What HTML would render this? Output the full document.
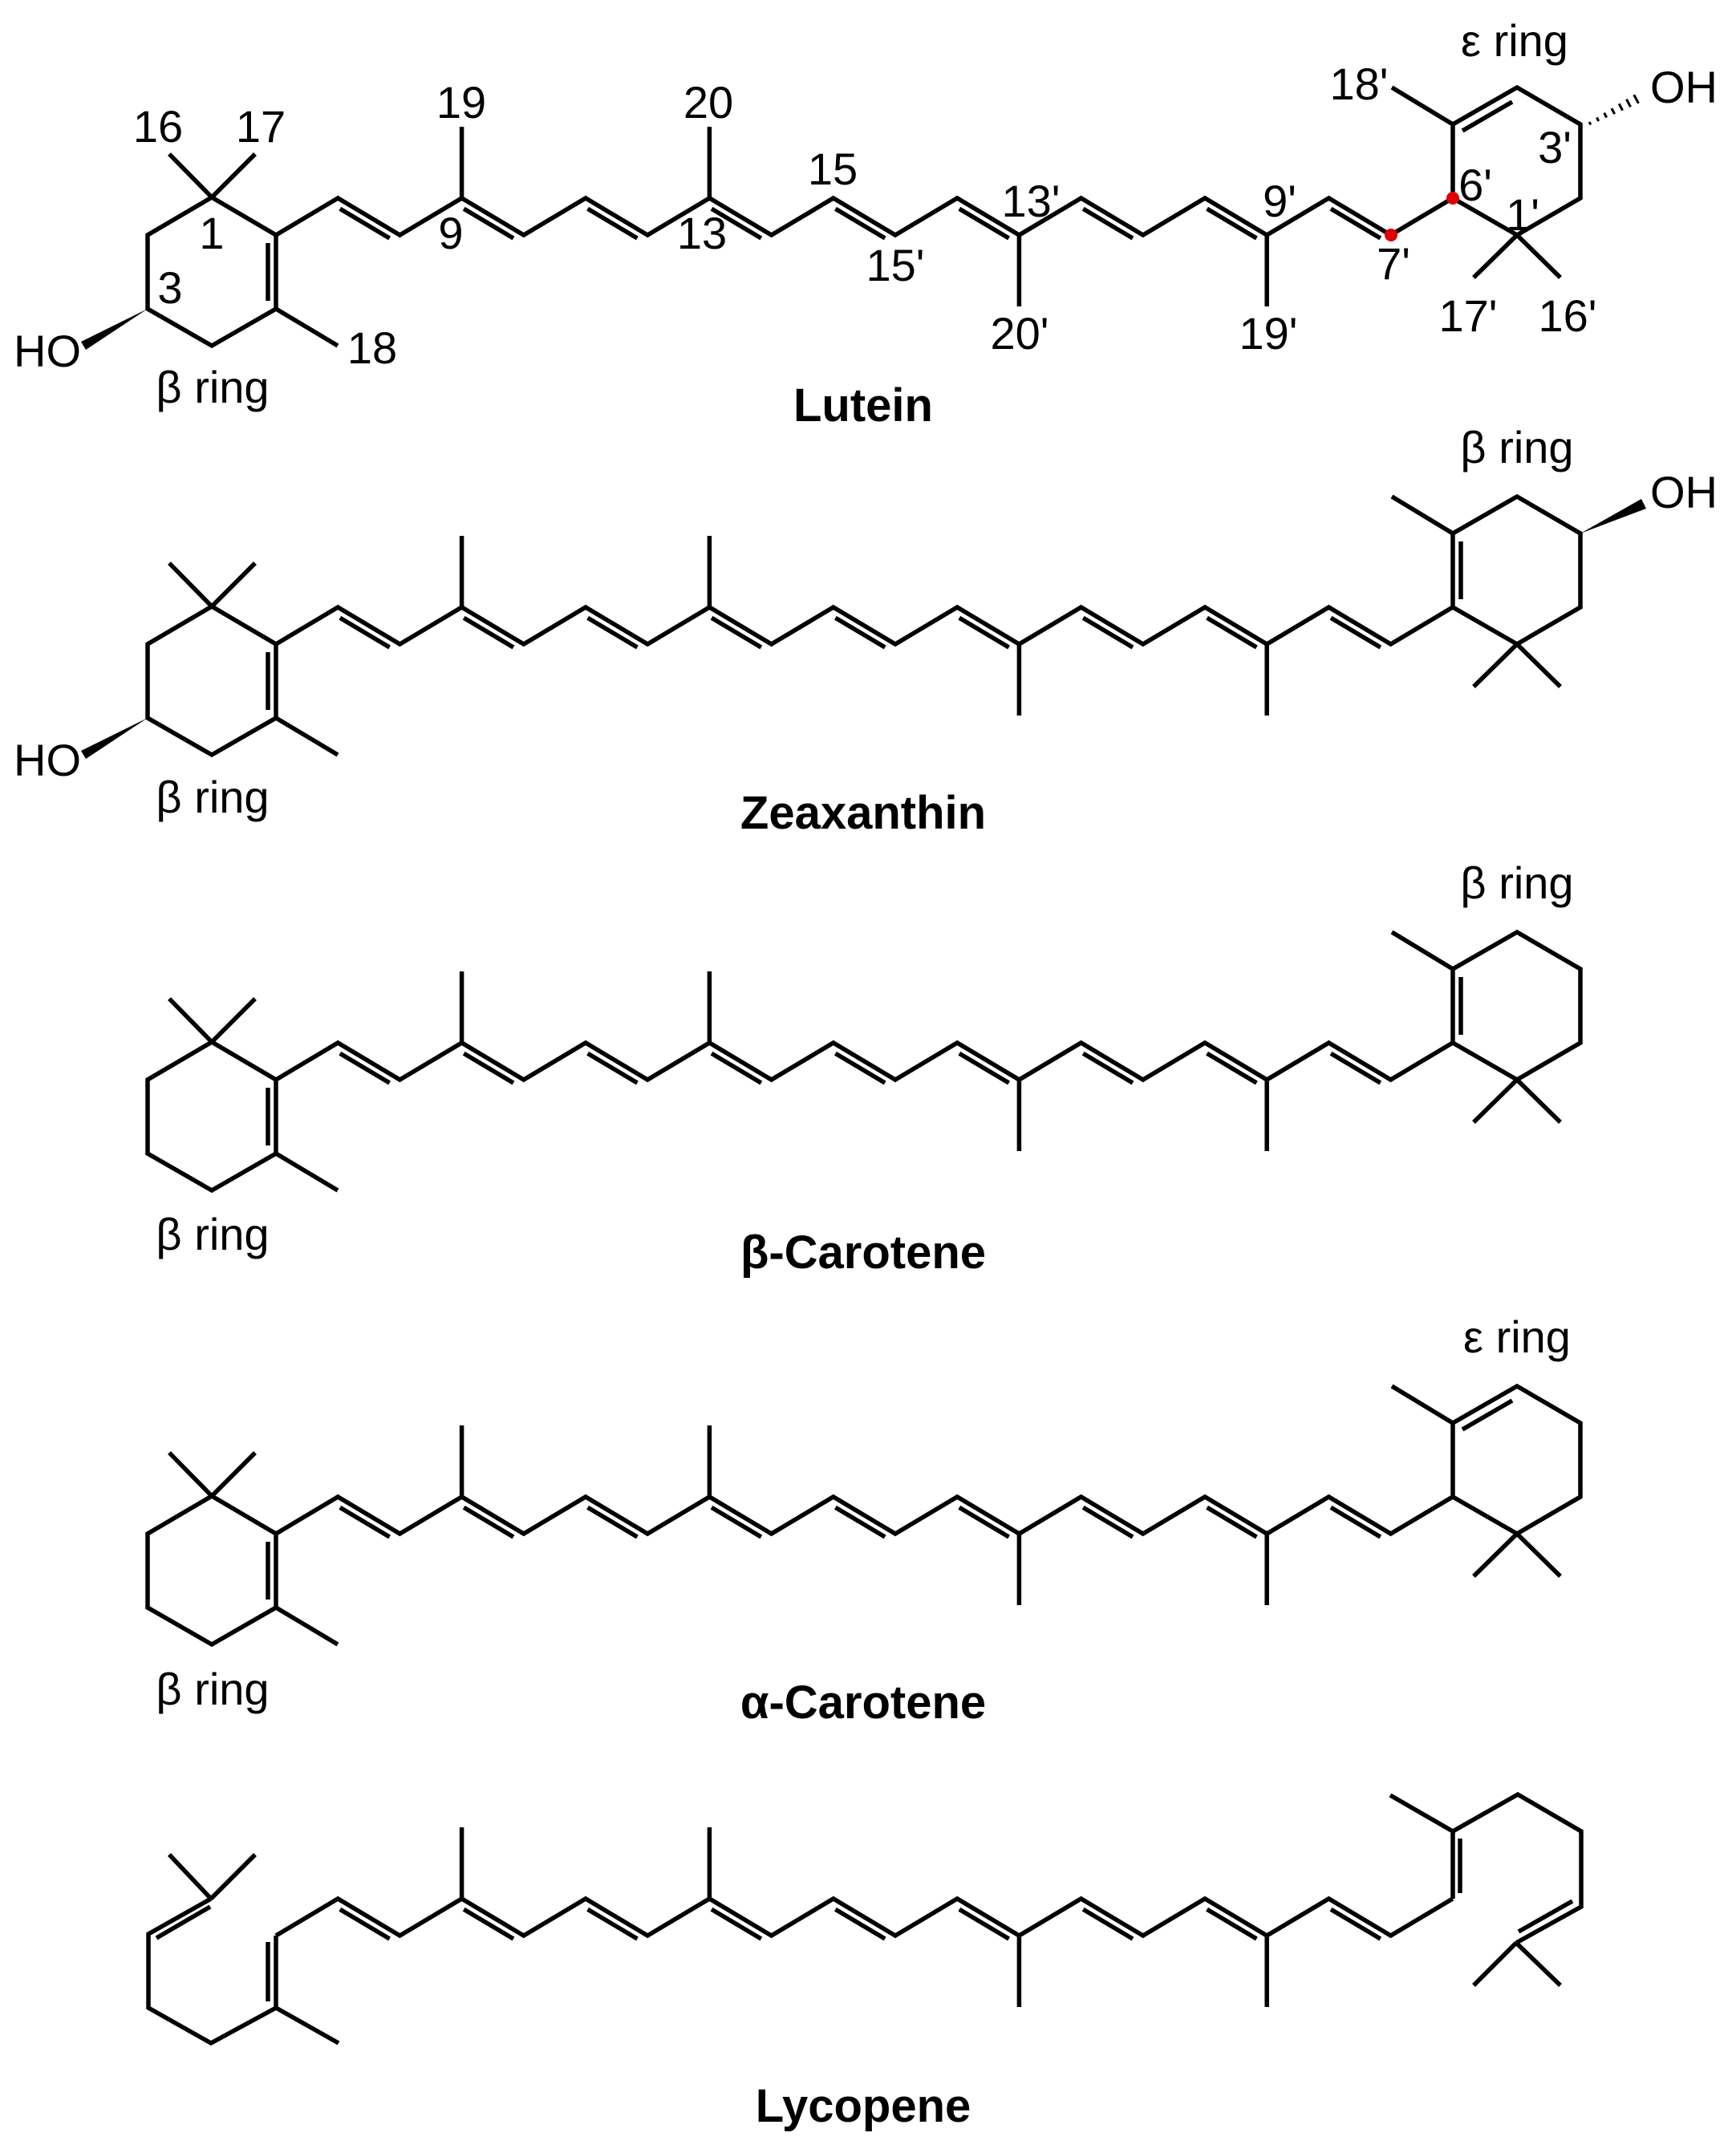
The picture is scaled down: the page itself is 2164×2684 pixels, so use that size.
<!DOCTYPE html>
<html><head><meta charset="utf-8"><style>
html,body{margin:0;padding:0;background:#fff;}
svg{display:block;}
text{font-family:"Liberation Sans",Arial,sans-serif;fill:#000;}
.l{font-size:56px;}
.n{font-size:58px;font-weight:bold;}
</style></head><body>
<svg xmlns="http://www.w3.org/2000/svg" xmlns:xlink="http://www.w3.org/1999/xlink" width="2164" height="2684" viewBox="0 0 2164 2684">
<defs>
<g id="ch" fill="none" stroke="#000" stroke-width="5.5" stroke-linejoin="miter">
<polyline points="344,293 421.2,247 498.4,293 575.6,247 652.8,293 730,247 807.2,293 884.4,247 961.6,293 1038.8,247 1116,293 1193.2,247 1270.4,293 1347.6,247 1424.8,293 1502,247 1579.2,293 1656.4,247 1733.6,293 1810.8,247"/>
<path d="M423.8,260.2L485.6,297M578.2,260.2L640,297M732.6,260.2L794.4,297M887,260.2L948.8,297M1041.4,260.2L1103.2,297M1195.8,260.2L1257.6,297M1350.2,260.2L1412,297M1504.6,260.2L1566.4,297M1659,260.2L1720.8,297"/>
<path d="M575.6,247V158M884.4,247V158M1270.4,293V382M1579.2,293V382"/>
</g>
<g id="lr" fill="none" stroke="#000" stroke-width="5.5">
<polygon points="344,293 344,385 264,431 184,385 184,293 264,246"/>
<path d="M334,303V375M264,246L211,192M264,246L318,192M344,385L421,431"/>
</g>
<g id="rb" fill="none" stroke="#000" stroke-width="5.5">
<polygon points="1811,247 1811,155 1891,109 1970,155 1970,247 1891,293"/>
<path d="M1821,165V237M1891,293L1837,346M1891,293L1945,346M1811,155L1735,109"/>
</g>
<g id="re" fill="none" stroke="#000" stroke-width="5.5">
<polygon points="1811,247 1811,155 1891,109 1970,155 1970,247 1891,293"/>
<path d="M1823,163L1885,127M1891,293L1837,346M1891,293L1945,346M1811,155L1735,109"/>
</g>
</defs>

<!-- Lutein -->
<use xlink:href="#ch"/>
<use xlink:href="#lr"/>
<use xlink:href="#re"/>
<polygon points="184,385 101,426 107,436" fill="#000"/>
<g stroke="#000" stroke-width="3">
<path d="M1981.1,151.9L1982.9,155.5M1990.4,146.4L1992.8,151M1999.7,140.7L2002.7,146.5M2008.9,135.1L2012.7,142.1M2018.2,129.3L2022.6,137.7M2027.5,123.7L2032.5,133.3M2036.8,118.2L2042.4,128.8"/>
</g>
<circle cx="1734" cy="293" r="8" fill="#e00000"/>
<circle cx="1811" cy="247" r="8" fill="#e00000"/>
<g class="l" text-anchor="middle">
<text x="197" y="177">16</text><text x="325" y="177">17</text><text x="575" y="147">19</text>
<text x="264" y="310">1</text><text x="212" y="378">3</text><text x="562" y="310">9</text>
<text x="464" y="453">18</text><text x="883" y="147">20</text><text x="875" y="310">13</text>
<text x="1038" y="230">15</text><text x="1116" y="350">15'</text><text x="1285" y="270">13'</text>
<text x="1271" y="435">20'</text><text x="1595" y="270">9'</text><text x="1581" y="435">19'</text>
<text x="1737" y="348">7'</text><text x="1839" y="250">6'</text><text x="1898" y="287">1'</text>
<text x="1938" y="203">3'</text><text x="1694" y="124">18'</text><text x="1830" y="413">17'</text>
<text x="1954" y="413">16'</text><text x="1888" y="70">ε ring</text>
<text x="265" y="502">β ring</text>
</g>
<text class="l" x="17" y="457">HO</text>
<text class="l" x="2057" y="128">OH</text>
<text class="n" x="1076" y="525" text-anchor="middle">Lutein</text>

<!-- Zeaxanthin -->
<g transform="translate(0,510)">
<use xlink:href="#ch"/>
<use xlink:href="#lr"/>
<use xlink:href="#rb"/>
<polygon points="184,385 101,426 107,436" fill="#000"/>
<polygon points="1970,155 2046,112 2052,124" fill="#000"/>
<text class="l" x="17" y="457">HO</text>
<text class="l" x="2057" y="123">OH</text>
<text class="l" x="265" y="503" text-anchor="middle">β ring</text>
<text class="l" x="1891" y="67" text-anchor="middle">β ring</text>
<text class="n" x="1076" y="523" text-anchor="middle">Zeaxanthin</text>
</g>

<!-- beta-Carotene -->
<g transform="translate(0,1053)">
<use xlink:href="#ch"/>
<use xlink:href="#lr"/>
<use xlink:href="#rb"/>
<text class="l" x="265" y="505" text-anchor="middle">β ring</text>
<text class="l" x="1891" y="67" text-anchor="middle">β ring</text>
<text class="n" x="1076" y="528" text-anchor="middle">β-Carotene</text>
</g>

<!-- alpha-Carotene -->
<g transform="translate(0,1619)">
<use xlink:href="#ch"/>
<use xlink:href="#lr"/>
<use xlink:href="#re"/>
<text class="l" x="265" y="506" text-anchor="middle">β ring</text>
<text class="l" x="1891" y="67" text-anchor="middle">ε ring</text>
<text class="n" x="1076" y="523" text-anchor="middle">α-Carotene</text>
</g>

<!-- Lycopene -->
<g transform="translate(0,2120)"><use xlink:href="#ch"/></g>
<g fill="none" stroke="#000" stroke-width="5.5">
<polyline points="344,2413 344,2503 263,2547 185,2503 185,2411 263,2367"/>
<path d="M334,2421V2495M195,2416L262,2377M263,2367L211,2312M263,2367L318,2312M344,2503L422,2547"/>
<polyline points="1811,2367 1811,2283 1892,2237 1971,2283 1971,2377 1890,2422"/>
<path d="M1820,2292V2360M1893,2408L1960,2370M1811,2283L1733,2238M1890,2422L1837,2475M1890,2422L1945,2475"/>
</g>
<text class="n" x="1076" y="2645" text-anchor="middle">Lycopene</text>
</svg>
</body></html>
